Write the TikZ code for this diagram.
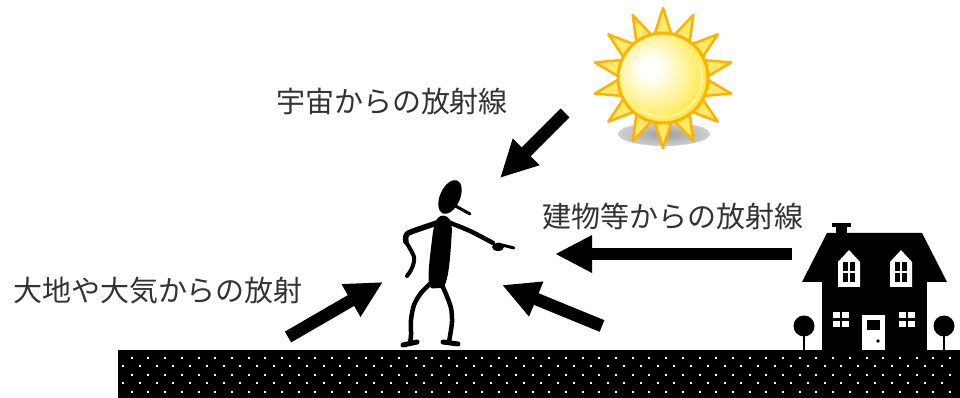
\documentclass[tikz,border=0pt]{standalone}
\usepackage{fontspec}
\newfontfamily\jp{Noto Sans CJK JP}
\usetikzlibrary{arrows.meta}
\definecolor{sunorange}{RGB}{255,178,0}
\definecolor{sunyellow}{RGB}{255,226,10}
\definecolor{raypale}{RGB}{255,232,110}
\pgfdeclareradialshading{sunglow}{\pgfpoint{-8bp}{6bp}}{color(0bp)=(white); color(5bp)=(white); color(20bp)=(sunyellow!45!white); color(34bp)=(sunyellow); color(70bp)=(sunyellow)}
\pgfdeclareradialshading{sunshadow}{\pgfpointorigin}{color(0bp)=(black!38); color(18bp)=(black!24); color(50bp)=(white)}

\begin{document}
\begin{tikzpicture}[
  x=0.2mm,y=-0.2mm,
  ray/.style={line width=2.5mm,-{Triangle[length=7.4mm,width=7mm]}},
  note/.style={font=\jp\fontsize{16.5pt}{18pt}\selectfont,text=black!80,inner sep=0pt},
  limb/.style={line width=#1,line cap=round,line join=round},
]
\useasboundingbox (0,0) rectangle (960,398);
% ---------- sun ----------
\shade[shading=sunshadow] (664,134) ellipse (46 and 12);
\foreach \k in {0,...,13}{
  \filldraw[shift={(663,78)},fill=raypale,draw=sunorange,line width=0.5mm,line join=round]
    (90+\k*360/14:70) -- (90+\k*360/14+12.8:42) -- (90+\k*360/14-12.8:42) -- cycle;
}
\shadedraw[shading=sunglow,draw=sunorange,line width=0.6mm] (663,78) circle (45);
\draw[white,opacity=.45,line width=0.5mm] (663,78) ++(-25:39) arc[start angle=-25,end angle=125,radius=39];
% ---------- ground ----------
\fill (118,350) rectangle (960,398);
\foreach \r in {0,...,4}{
  \pgfmathsetmacro\off{mod(\r,2)==0 ? 131.7 : 123.3}
  \foreach \c in {0,...,49}{
    \fill[white] (\off+16.7*\c-1,358+8.4*\r-1) rectangle ++(2,2);
  }
}
% ---------- house ----------
\fill (832,223) rectangle (851,227);
\fill (836,227) rectangle (847,235);
\fill (827,233) -- (922,233) -- (947,282) -- (802,282) -- cycle;
\fill (822,281) rectangle (927,350);
\foreach \wx in {849,901}{
  \fill[white] (\wx-11,287) -- (\wx-11,262) -- (\wx,250) -- (\wx+11,262) -- (\wx+11,287) -- cycle;
  \fill (\wx-6,262) rectangle (\wx+6,282);
  \draw[white,line width=0.4mm] (\wx,262) -- (\wx,282) (\wx-6,272) -- (\wx+6,272);
}
\foreach \wx in {841,907}{
  \fill[white] (\wx-8,312) rectangle (\wx+8,327);
  \draw[line width=0.5mm] (\wx,312) -- (\wx,327) (\wx-8,319.5) -- (\wx+8,319.5);
}
\fill[white] (862,315) rectangle (885,350);
\fill (867,320) rectangle (880,330);
\fill (878,341) circle (1.8);
% trees
\foreach \tx in {804,944}{
  \fill (\tx,326) circle (10.5);
  \draw[line width=0.5mm] (\tx,330) -- (\tx,350);
}
% ---------- person ----------
\fill[rotate around={-24:(450,197)}] (450,197) ellipse (10 and 18);
\draw[limb=0.6mm] (452,204) -- (470,214);
\fill plot[smooth cycle,tension=.7] coordinates {(437,219) (450,220) (451,245) (446,282) (437,288) (429,283) (431,248)};
\draw[limb=1.1mm] plot[smooth] coordinates {(440,222) (422,228) (407,234) (406,242)};
\draw[limb=0.8mm] plot[smooth] coordinates {(406,242) (414,257) (412,268) (407,276)};
\draw[limb=0.9mm] plot[smooth] coordinates {(448,222) (470,231) (493,243)};
\fill (498,247) ellipse (6 and 4);
\draw[limb=0.6mm] (498,244) -- (514,248);
\draw[limb=0.9mm] plot[smooth] coordinates {(432,282) (421,293) (414,305) (411,320) (411,335) (410,343)};
\draw[limb=1mm] (403,345) -- (417,342);
\draw[limb=0.9mm] plot[smooth] coordinates {(441,283) (446,294) (451,308) (452,322) (450,336) (449,342)};
\draw[limb=1mm] (443,342) -- (458,344);
% ---------- labels ----------
\node[note] (cosmic) at (392,102) {宇宙からの放射線};
\node[note] (building) at (673,216) {建物等からの放射線};
\node[note] (earth) at (158,291) {大地や大気からの放射};
% ---------- rays towards the person ----------
\coordinate (cosmicA) at (565,113);
\coordinate (cosmicB) at (500,178);
\coordinate (buildA) at (792,254);
\coordinate (buildB) at (555,254);
\coordinate (earthA) at (288,337);
\coordinate (earthB) at (383,282);
\coordinate (airA) at (602,326);
\coordinate (airB) at (502,285);
\draw[ray] (cosmicA) -- (cosmicB);
\draw[ray] (buildA) -- (buildB);
\draw[ray] (earthA) -- (earthB);
\draw[ray] (airA) -- (airB);
\end{tikzpicture}
\end{document}
